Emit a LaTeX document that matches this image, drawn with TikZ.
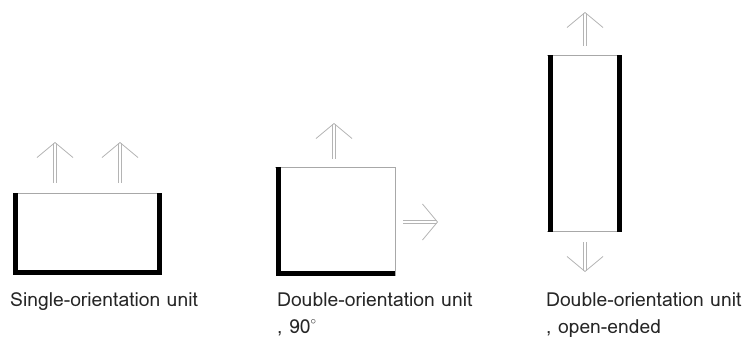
\documentclass[tikz,border=0pt]{standalone}
\usepackage{fontspec}
\setmainfont{Loma}
\usepackage{tikz}
\usetikzlibrary{arrows.meta,positioning}
\definecolor{wallgray}{HTML}{A8A8A8}
\definecolor{arrowgray}{HTML}{B4B4B4}
\tikzset{
  wall/.style={line width=5pt,black,miter limit=10},
  openside/.style={line width=0.8pt,wallgray},
  flow/.style={draw=arrowgray,line width=0.8pt,double=white,double distance=2.6pt,
    -{Straight Barb[length=15pt,width=36pt]}},
  caption/.style={anchor=base west,inner sep=0pt,font=\fontsize{19.3}{21}\selectfont,black!85}
}
\begin{document}
\begin{tikzpicture}[x=1pt,y=-1pt]
  \useasboundingbox (0,0) rectangle (744,343);
  % single-orientation unit
  \draw[openside] (13,193.5) -- (162,193.5);
  \draw[wall] (15.5,193) -- (15.5,272.5) -- (159.5,272.5) -- (159.5,193);
  \coordinate (s1a) at (55,183); \coordinate (s1b) at (55,142);
  \coordinate (s2a) at (120,183); \coordinate (s2b) at (120,142);
  \draw[flow] (s1a) -- (s1b);
  \draw[flow] (s2a) -- (s2b);
  \node[caption] (cap1) at (10,306) {Single-orientation unit};
  % double-orientation unit, 90
  \draw[openside] (275,167) -- (395,167) -- (395,276);
  \draw[wall] (278,167) -- (278,273.5) -- (395,273.5);
  \coordinate (d1a) at (334,159); \coordinate (d1b) at (334,123);
  \coordinate (d2a) at (403,222); \coordinate (d2b) at (438,222);
  \draw[flow] (d1a) -- (d1b);
  \draw[flow] (d2a) -- (d2b);
  \node[caption] (cap2) at (277,306) {Double-orientation unit};
  \node[caption] (cap2b) at (277,333) {, 90\raisebox{0.42em}{\fontsize{11}{11}\selectfont$\circ$}};
  % double-orientation unit, open-ended
  \draw[openside] (547,55.5) -- (622,55.5);
  \draw[openside] (547,231.5) -- (622,231.5);
  \draw[wall] (550,55) -- (550,232);
  \draw[wall] (619,55) -- (619,232);
  \coordinate (o1a) at (585,46); \coordinate (o1b) at (585,12);
  \coordinate (o2a) at (585,242); \coordinate (o2b) at (585,272);
  \draw[flow] (o1a) -- (o1b);
  \draw[flow] (o2a) -- (o2b);
  \node[caption] (cap3) at (546,306) {Double-orientation unit};
  \node[caption] (cap3b) at (546,333) {, open-ended};
\end{tikzpicture}
\end{document}
